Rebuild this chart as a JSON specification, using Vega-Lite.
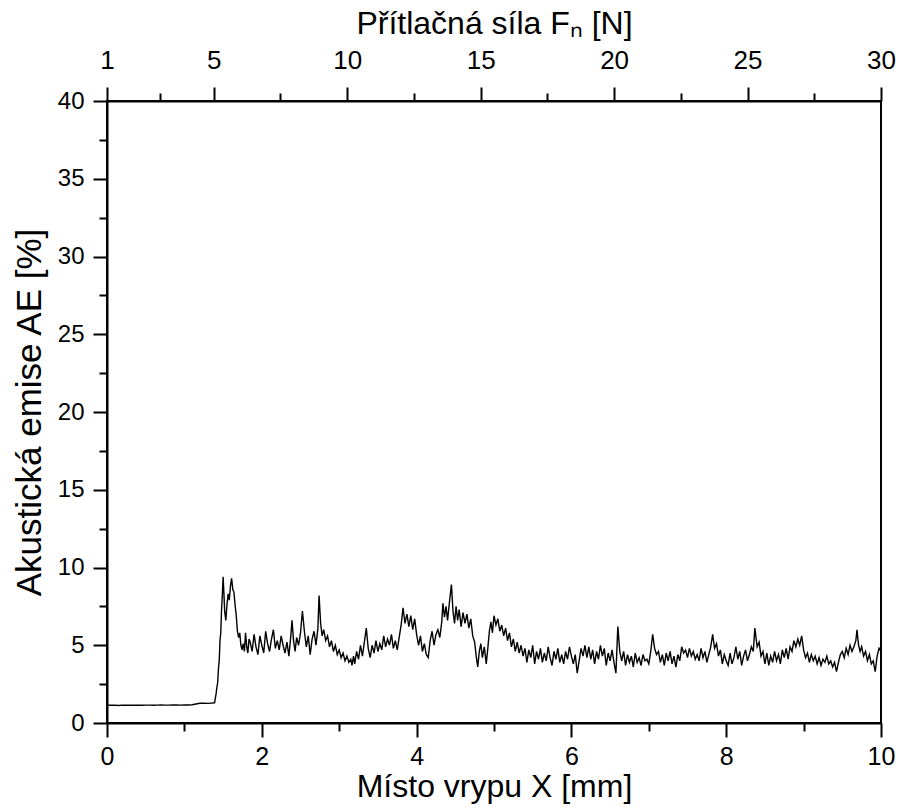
{
  "$schema": "https://vega.github.io/schema/vega-lite/v6.json",
  "autosize": {"type": "none"},
  "width": 774,
  "height": 622,
  "padding": {"left": 107, "top": 101, "right": 19, "bottom": 86},
  "background": "white",
  "config": {
    "view": {"stroke": "black", "strokeWidth": 2},
    "font": "Liberation Sans",
    "axis": {"grid": false, "labelFlush": false, "labelFont": "Liberation Sans", "titleFont": "Liberation Sans", "labelColor": "black", "titleColor": "black", "tickColor": "black", "domainColor": "black", "titleFontWeight": "normal", "tickWidth": 2, "domainWidth": 2}
  },
  "datasets": {
    "ae": [
      {"x":0,"y":1.15},{"x":0.05,"y":1.14},{"x":0.1,"y":1.15},{"x":0.15,"y":1.13},{"x":0.2,"y":1.15},{"x":0.25,"y":1.14},{"x":0.3,"y":1.15},{"x":0.35,"y":1.14},{"x":0.4,"y":1.15},{"x":0.45,"y":1.14},{"x":0.5,"y":1.15},{"x":0.55,"y":1.15},{"x":0.6,"y":1.14},{"x":0.65,"y":1.15},{"x":0.7,"y":1.16},{"x":0.75,"y":1.15},{"x":0.8,"y":1.15},{"x":0.85,"y":1.16},{"x":0.9,"y":1.16},{"x":0.95,"y":1.15},{"x":1.0,"y":1.16},{"x":1.05,"y":1.16},{"x":1.1,"y":1.17},{"x":1.15,"y":1.22},{"x":1.2,"y":1.27},{"x":1.25,"y":1.28},{"x":1.3,"y":1.26},{"x":1.35,"y":1.28},{"x":1.39,"y":1.3},{"x":1.41,"y":1.9},{"x":1.42,"y":2.3},{"x":1.43,"y":2.6},{"x":1.44,"y":3.5},{"x":1.45,"y":4.0},{"x":1.46,"y":5.3},{"x":1.47,"y":5.8},{"x":1.48,"y":7.3},{"x":1.49,"y":8.2},{"x":1.50,"y":9.4},{"x":1.51,"y":8.4},{"x":1.52,"y":7.2},{"x":1.535,"y":6.6},{"x":1.55,"y":7.6},{"x":1.565,"y":8.3},{"x":1.58,"y":7.9},{"x":1.595,"y":8.8},{"x":1.61,"y":9.3},{"x":1.625,"y":8.6},{"x":1.64,"y":8.4},{"x":1.655,"y":7.6},{"x":1.67,"y":6.9},{"x":1.685,"y":5.9},{"x":1.70,"y":5.5},{"x":1.715,"y":5.8},{"x":1.73,"y":5.0},{"x":1.745,"y":4.7},{"x":1.76,"y":5.1},{"x":1.775,"y":4.6},{"x":1.79,"y":5.8},{"x":1.805,"y":4.9},{"x":1.82,"y":4.5},{"x":1.835,"y":5.4},
      {"x":1.85,"y":5.2},{"x":1.875,"y":4.6},{"x":1.9,"y":5.7},{"x":1.925,"y":4.9},{"x":1.95,"y":4.4},{"x":1.975,"y":5.6},{"x":2.0,"y":5.0},{"x":2.025,"y":4.5},{"x":2.05,"y":5.9},{"x":2.075,"y":5.1},{"x":2.1,"y":4.6},{"x":2.125,"y":5.4},{"x":2.15,"y":6.0},{"x":2.175,"y":4.8},{"x":2.2,"y":5.3},{"x":2.225,"y":4.7},{"x":2.25,"y":5.6},{"x":2.275,"y":5.0},{"x":2.3,"y":4.5},{"x":2.325,"y":5.2},{"x":2.35,"y":4.3},{"x":2.375,"y":5.6},{"x":2.39,"y":6.6},{"x":2.41,"y":5.3},{"x":2.43,"y":4.6},{"x":2.45,"y":5.5},{"x":2.475,"y":5.0},{"x":2.5,"y":5.8},{"x":2.525,"y":7.2},{"x":2.55,"y":5.9},{"x":2.575,"y":4.9},{"x":2.6,"y":5.6},{"x":2.625,"y":4.4},{"x":2.65,"y":5.4},{"x":2.675,"y":5.9},{"x":2.7,"y":5.0},{"x":2.725,"y":6.1},{"x":2.74,"y":8.2},{"x":2.76,"y":6.4},{"x":2.78,"y":5.6},{"x":2.8,"y":6.0},{"x":2.825,"y":5.3},{"x":2.85,"y":5.6},{"x":2.875,"y":4.9},{"x":2.9,"y":5.3},{"x":2.925,"y":4.6},{"x":2.95,"y":5.0},{"x":2.975,"y":4.4},
      {"x":3.0,"y":4.7},{"x":3.025,"y":4.2},{"x":3.05,"y":4.5},{"x":3.075,"y":4.0},{"x":3.1,"y":4.3},{"x":3.125,"y":3.9},{"x":3.15,"y":4.1},{"x":3.165,"y":3.7},{"x":3.185,"y":4.3},{"x":3.2,"y":3.8},{"x":3.225,"y":4.6},{"x":3.25,"y":4.1},{"x":3.275,"y":5.0},{"x":3.3,"y":4.3},{"x":3.325,"y":5.2},{"x":3.35,"y":6.1},{"x":3.375,"y":4.8},{"x":3.4,"y":4.2},{"x":3.425,"y":5.0},{"x":3.45,"y":4.5},{"x":3.475,"y":5.3},{"x":3.5,"y":4.6},{"x":3.525,"y":5.1},{"x":3.55,"y":4.7},{"x":3.575,"y":5.6},{"x":3.6,"y":4.9},{"x":3.625,"y":5.4},{"x":3.65,"y":5.0},{"x":3.675,"y":5.7},{"x":3.7,"y":4.8},{"x":3.725,"y":5.3},{"x":3.75,"y":4.7},{"x":3.775,"y":5.5},{"x":3.8,"y":6.3},{"x":3.825,"y":7.4},{"x":3.85,"y":6.4},{"x":3.875,"y":7.0},{"x":3.9,"y":6.2},{"x":3.925,"y":6.9},{"x":3.95,"y":6.0},{"x":3.975,"y":6.7},
      {"x":4.0,"y":5.7},{"x":4.025,"y":5.0},{"x":4.05,"y":5.6},{"x":4.075,"y":4.6},{"x":4.1,"y":5.1},{"x":4.125,"y":4.4},{"x":4.15,"y":4.2},{"x":4.175,"y":5.3},{"x":4.2,"y":5.9},{"x":4.225,"y":5.0},{"x":4.25,"y":5.7},{"x":4.275,"y":6.0},{"x":4.3,"y":5.5},{"x":4.325,"y":6.5},{"x":4.34,"y":7.7},{"x":4.36,"y":6.8},{"x":4.38,"y":7.5},{"x":4.4,"y":6.6},{"x":4.425,"y":7.8},{"x":4.45,"y":8.9},{"x":4.47,"y":7.2},{"x":4.49,"y":6.4},{"x":4.51,"y":7.5},{"x":4.53,"y":6.6},{"x":4.55,"y":7.3},{"x":4.575,"y":6.2},{"x":4.6,"y":7.1},{"x":4.625,"y":6.4},{"x":4.65,"y":7.0},{"x":4.675,"y":6.1},{"x":4.7,"y":6.7},{"x":4.725,"y":5.6},{"x":4.75,"y":5.2},{"x":4.77,"y":4.3},{"x":4.79,"y":3.6},{"x":4.81,"y":4.6},{"x":4.83,"y":5.1},{"x":4.85,"y":4.2},{"x":4.875,"y":4.9},{"x":4.9,"y":3.8},{"x":4.92,"y":4.8},{"x":4.94,"y":5.9},{"x":4.96,"y":6.5},{"x":4.98,"y":5.8},
      {"x":5.0,"y":6.9},{"x":5.025,"y":6.3},{"x":5.05,"y":6.7},{"x":5.075,"y":5.9},{"x":5.1,"y":6.3},{"x":5.125,"y":5.6},{"x":5.15,"y":6.1},{"x":5.175,"y":5.3},{"x":5.2,"y":5.8},{"x":5.225,"y":4.9},{"x":5.25,"y":5.4},{"x":5.275,"y":4.6},{"x":5.3,"y":5.2},{"x":5.325,"y":4.5},{"x":5.35,"y":5.0},{"x":5.375,"y":4.3},{"x":5.4,"y":4.8},{"x":5.425,"y":3.9},{"x":5.45,"y":4.7},{"x":5.475,"y":4.2},{"x":5.5,"y":5.0},{"x":5.525,"y":3.8},{"x":5.55,"y":4.6},{"x":5.575,"y":4.1},{"x":5.6,"y":4.8},{"x":5.625,"y":3.9},{"x":5.65,"y":4.5},{"x":5.675,"y":4.0},{"x":5.7,"y":4.9},{"x":5.725,"y":4.2},{"x":5.75,"y":3.7},{"x":5.775,"y":4.6},{"x":5.8,"y":4.1},{"x":5.825,"y":4.8},{"x":5.85,"y":3.9},{"x":5.875,"y":4.4},{"x":5.9,"y":3.8},{"x":5.925,"y":4.6},{"x":5.95,"y":4.1},{"x":5.975,"y":4.9},
      {"x":6.0,"y":4.3},{"x":6.025,"y":3.8},{"x":6.05,"y":4.4},{"x":6.075,"y":3.2},{"x":6.1,"y":4.0},{"x":6.125,"y":4.8},{"x":6.15,"y":4.3},{"x":6.175,"y":5.0},{"x":6.2,"y":4.2},{"x":6.225,"y":4.9},{"x":6.25,"y":4.1},{"x":6.275,"y":4.7},{"x":6.3,"y":3.8},{"x":6.325,"y":4.6},{"x":6.35,"y":4.1},{"x":6.375,"y":5.0},{"x":6.4,"y":4.3},{"x":6.425,"y":4.8},{"x":6.45,"y":3.7},{"x":6.475,"y":4.5},{"x":6.5,"y":4.0},{"x":6.525,"y":4.7},{"x":6.55,"y":3.9},{"x":6.575,"y":3.2},{"x":6.6,"y":6.2},{"x":6.625,"y":4.6},{"x":6.65,"y":4.0},{"x":6.675,"y":4.6},{"x":6.7,"y":3.7},{"x":6.725,"y":4.4},{"x":6.75,"y":3.9},{"x":6.775,"y":4.3},{"x":6.8,"y":3.6},{"x":6.825,"y":4.5},{"x":6.85,"y":3.9},{"x":6.875,"y":4.2},{"x":6.9,"y":3.7},{"x":6.925,"y":4.4},{"x":6.95,"y":4.0},{"x":6.975,"y":4.1},
      {"x":7.0,"y":3.8},{"x":7.025,"y":4.6},{"x":7.05,"y":5.7},{"x":7.075,"y":4.8},{"x":7.1,"y":4.4},{"x":7.125,"y":4.6},{"x":7.15,"y":3.9},{"x":7.175,"y":4.4},{"x":7.2,"y":3.7},{"x":7.225,"y":4.5},{"x":7.25,"y":4.0},{"x":7.275,"y":4.6},{"x":7.3,"y":3.8},{"x":7.325,"y":4.3},{"x":7.35,"y":3.6},{"x":7.375,"y":4.4},{"x":7.4,"y":4.0},{"x":7.425,"y":4.9},{"x":7.45,"y":4.5},{"x":7.475,"y":4.7},{"x":7.5,"y":4.2},{"x":7.525,"y":4.8},{"x":7.55,"y":4.3},{"x":7.575,"y":4.6},{"x":7.6,"y":4.1},{"x":7.625,"y":4.4},{"x":7.65,"y":4.0},{"x":7.675,"y":4.8},{"x":7.7,"y":4.2},{"x":7.725,"y":4.6},{"x":7.75,"y":3.9},{"x":7.775,"y":4.4},{"x":7.8,"y":4.9},{"x":7.825,"y":5.7},{"x":7.85,"y":4.8},{"x":7.875,"y":5.1},{"x":7.9,"y":4.3},{"x":7.925,"y":4.7},{"x":7.95,"y":3.8},{"x":7.975,"y":4.4},
      {"x":8.0,"y":4.0},{"x":8.025,"y":3.7},{"x":8.05,"y":4.5},{"x":8.075,"y":3.8},{"x":8.1,"y":4.2},{"x":8.125,"y":4.9},{"x":8.15,"y":4.1},{"x":8.175,"y":4.6},{"x":8.2,"y":3.7},{"x":8.225,"y":4.3},{"x":8.25,"y":4.7},{"x":8.275,"y":4.0},{"x":8.3,"y":4.4},{"x":8.325,"y":4.9},{"x":8.35,"y":4.6},{"x":8.37,"y":6.1},{"x":8.4,"y":4.9},{"x":8.425,"y":5.2},{"x":8.45,"y":4.3},{"x":8.475,"y":4.6},{"x":8.5,"y":3.8},{"x":8.525,"y":4.5},{"x":8.55,"y":3.7},{"x":8.575,"y":4.3},{"x":8.6,"y":3.9},{"x":8.625,"y":4.6},{"x":8.65,"y":4.0},{"x":8.675,"y":4.4},{"x":8.7,"y":3.8},{"x":8.725,"y":4.7},{"x":8.75,"y":4.2},{"x":8.775,"y":4.8},{"x":8.8,"y":4.1},{"x":8.825,"y":4.9},{"x":8.85,"y":4.6},{"x":8.875,"y":5.3},{"x":8.9,"y":4.9},{"x":8.925,"y":5.4},{"x":8.95,"y":5.0},{"x":8.975,"y":5.6},
      {"x":9.0,"y":4.7},{"x":9.025,"y":4.2},{"x":9.05,"y":4.5},{"x":9.075,"y":3.9},{"x":9.1,"y":4.4},{"x":9.125,"y":4.0},{"x":9.15,"y":4.3},{"x":9.175,"y":3.8},{"x":9.2,"y":4.2},{"x":9.225,"y":3.7},{"x":9.25,"y":4.1},{"x":9.275,"y":3.9},{"x":9.3,"y":4.3},{"x":9.325,"y":3.8},{"x":9.35,"y":4.0},{"x":9.375,"y":3.6},{"x":9.4,"y":3.9},{"x":9.425,"y":3.3},{"x":9.45,"y":3.9},{"x":9.475,"y":4.4},{"x":9.5,"y":4.6},{"x":9.525,"y":4.2},{"x":9.55,"y":4.8},{"x":9.575,"y":4.4},{"x":9.6,"y":5.0},{"x":9.625,"y":4.6},{"x":9.65,"y":4.9},{"x":9.675,"y":5.3},{"x":9.69,"y":6.0},{"x":9.71,"y":5.0},{"x":9.73,"y":4.6},{"x":9.75,"y":4.9},{"x":9.775,"y":4.3},{"x":9.8,"y":4.6},{"x":9.825,"y":4.0},{"x":9.85,"y":4.4},{"x":9.875,"y":3.8},{"x":9.9,"y":4.0},{"x":9.925,"y":3.3},{"x":9.95,"y":4.3},{"x":9.975,"y":4.8},{"x":10.0,"y":4.6}
    ],
    "xr": [{"x": 0}, {"x": 10}],
    "yr": [{"y": 0}, {"y": 40}],
    "force": [{"f": 1}, {"f": 30}]
  },
  "layer": [
    {
      "data": {"name": "ae"},
      "mark": {"type": "line", "color": "black", "strokeWidth": 1.4, "interpolate": "linear"},
      "encoding": {
        "x": {"field": "x", "type": "quantitative", "scale": {"domain": [0, 10], "nice": false, "zero": false},
          "axis": {"orient": "bottom", "values": [0, 2, 4, 6, 8, 10], "format": "d", "tickSize": 14, "labelFontSize": 25, "labelPadding": 7, "title": "Místo vrypu X [mm]", "titleFontSize": 32, "titlePadding": 2}},
        "y": {"field": "y", "type": "quantitative", "scale": {"domain": [0, 40], "nice": false},
          "axis": {"orient": "left", "values": [0, 5, 10, 15, 20, 25, 30, 35, 40], "format": "d", "tickSize": 14, "labelFontSize": 24, "labelPadding": 9, "title": "Akustická emise AE [%]", "titleFontSize": 35, "titlePadding": 10}}
      }
    },
    {
      "data": {"name": "xr"},
      "mark": {"type": "point", "opacity": 0},
      "encoding": {
        "x": {"field": "x", "type": "quantitative", "scale": {"domain": [0, 10], "nice": false, "zero": false},
          "axis": {"orient": "bottom", "values": [1, 3, 5, 7, 9], "labels": false, "domain": false, "tickSize": 8, "title": null}}
      }
    },
    {
      "data": {"name": "yr"},
      "mark": {"type": "point", "opacity": 0},
      "encoding": {
        "y": {"field": "y", "type": "quantitative", "scale": {"domain": [0, 40], "nice": false},
          "axis": {"orient": "left", "values": [2.5, 7.5, 12.5, 17.5, 22.5, 27.5, 32.5, 37.5], "labels": false, "domain": false, "tickSize": 8, "title": null}}
      }
    },
    {
      "data": {"name": "force"},
      "mark": {"type": "point", "opacity": 0},
      "encoding": {
        "x": {"field": "f", "type": "quantitative", "scale": {"domain": [1, 30], "nice": false, "zero": false},
          "axis": {"orient": "top", "values": [1, 5, 10, 15, 20, 25, 30], "format": "d", "tickSize": 14, "labelFontSize": 26, "labelPadding": 14, "title": "Přítlačná síla Fₙ [N]", "titleFontSize": 32, "titlePadding": 7}}
      }
    },
    {
      "data": {"name": "force"},
      "mark": {"type": "point", "opacity": 0},
      "encoding": {
        "x": {"field": "f", "type": "quantitative", "scale": {"domain": [1, 30], "nice": false, "zero": false},
          "axis": {"orient": "top", "values": [3, 7.5, 12.5, 17.5, 22.5, 27.5], "labels": false, "domain": false, "tickSize": 8, "title": null}}
      }
    }
  ],
  "resolve": {"scale": {"x": "independent", "y": "independent"}, "axis": {"x": "independent", "y": "independent"}}
}
